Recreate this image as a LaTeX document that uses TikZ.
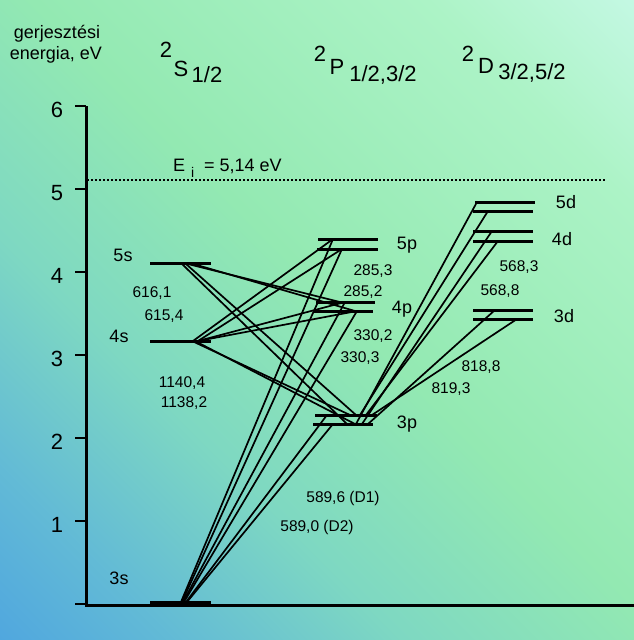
\documentclass[tikz,border=0pt]{standalone}
\usepackage{fontspec}
\setmainfont{Liberation Sans}
\definecolor{cBL}{RGB}{72,158,226}
\definecolor{cA}{RGB}{98,186,214}
\definecolor{cA2}{RGB}{126,216,194}
\definecolor{cM}{RGB}{147,233,178}
\definecolor{cB}{RGB}{172,243,198}
\definecolor{cTR}{RGB}{205,250,238}
\pgfdeclareverticalshading{bgshade}{100bp}{color(0bp)=(cBL); color(10bp)=(cBL); color(24bp)=(cA); color(37bp)=(cA2); color(52bp)=(cM); color(74bp)=(cB); color(90bp)=(cTR); color(100bp)=(cTR)}
\begin{document}
\begin{tikzpicture}[x=1pt,y=-1pt,
  lvl/.style={line width=3pt},
  tr/.style={line width=1.7pt},
  lab/.style={font=\fontsize{18}{20}\selectfont, inner sep=0pt},
  num/.style={font=\fontsize{15.5}{18}\selectfont, inner sep=0pt},
  hdr/.style={font=\fontsize{22}{24}\selectfont, inner sep=0pt},
  axl/.style={font=\fontsize{22}{24}\selectfont, inner sep=0pt}]
\useasboundingbox (0,0) rectangle (634,640);
\shade[shading=bgshade, shading angle=-45] (0,0) rectangle (634,640);

% axis
\draw[line width=3pt] (86,106) -- (86,605) -- (634,605);
\foreach \e/\yy in {6/106,5/189,4/272,3/355,2/438,1/521,0/604}{
  \draw[line width=2pt] (75,\yy) -- (86,\yy);
}
\foreach \e/\yy in {6/106,5/189,4/272,3/355,2/438,1/521}{
  \node[axl] (ax\e) at (57,\yy+4) {\e};
}
\node[lab, anchor=base] (t1) at (57,38) {gerjesztési};
\node[lab, anchor=base] (t2) at (56,59) {energia, eV};

% ionisation limit
\draw[line width=2pt, dash pattern=on 2pt off 2pt] (87,180) -- (605,180);
\node[lab, anchor=base west] (ei1) at (173,171) {E};
\node[font=\fontsize{14}{16}\selectfont, inner sep=0pt, anchor=base west] (ei2) at (191,177) {i};
\node[lab, anchor=base west] (ei3) at (204,171) {= 5,14 eV};

% headers
\node[hdr] (hs1) at (166,50) {2};
\node[hdr] (hs2) at (181,69) {S};
\node[hdr] (hs3) at (207,75) {1/2};
\node[hdr] (hp1) at (320,54) {2};
\node[hdr] (hp2) at (337,67) {P};
\node[hdr] (hp3) at (383,75) {1/2,3/2};
\node[hdr] (hd1) at (468,54) {2};
\node[hdr] (hd2) at (486,66) {D};
\node[hdr] (hd3) at (532,73) {3/2,5/2};

% levels
\draw[line width=4pt] (150,603) -- (211,603);
\draw[lvl] (150,341) -- (211,341);
\draw[lvl] (150,263) -- (211,263);
\draw[lvl] (315,415) -- (377,415);
\draw[lvl] (313,424) -- (373,424);
\draw[lvl] (316,302) -- (375,302);
\draw[lvl] (313,311) -- (373,311);
\draw[lvl] (318,239) -- (378,239);
\draw[lvl] (317,249) -- (378,249);
\draw[lvl] (475,202) -- (535,202);
\draw[lvl] (473,211) -- (533,211);
\draw[lvl] (473,231) -- (533,231);
\draw[lvl] (473,241) -- (533,241);
\draw[lvl] (473,310) -- (533,310);
\draw[lvl] (473,319) -- (533,319);

% level labels
\node[lab] (l5s) at (123,255) {5s};
\node[lab] (l4s) at (119,336) {4s};
\node[lab] (l3s) at (119,578) {3s};
\node[lab] (l5p) at (407,245) {5p};
\node[lab] (l4p) at (402,309) {4p};
\node[lab] (l3p) at (407,424) {3p};
\node[lab] (l5d) at (566,202) {5d};
\node[lab] (l4d) at (562,239) {4d};
\node[lab] (l3d) at (564,316) {3d};

% coordinates
\coordinate (s3a) at (181,602);
\coordinate (s3b) at (182,602);
\coordinate (s3c) at (183,602);
\coordinate (s3d) at (184,602);
\coordinate (s3e) at (186,602);
\coordinate (s3f) at (187,602);
\coordinate (s4a) at (193,341);
\coordinate (s4b) at (198,341);
\coordinate (s4c) at (192,341);
\coordinate (s4d) at (195,341);
\coordinate (s5a) at (182,264);
\coordinate (s5b) at (186,264);
\coordinate (s5c) at (184,263);
\coordinate (s5d) at (190,263);
\coordinate (p5u) at (333,239);
\coordinate (p5l) at (342,249);
\coordinate (p4u) at (345,302);
\coordinate (p4l) at (357,311);
\coordinate (p4u5) at (340,302);
\coordinate (p4l5) at (355,311);
\coordinate (p3u3) at (327,415);
\coordinate (p3l3) at (333,424);
\coordinate (p3l5) at (347,424);
\coordinate (p3u5) at (356,415);
\coordinate (p3u4) at (350,415);
\coordinate (p3l4) at (355,424);
\coordinate (q1) at (356,424);
\coordinate (q2) at (360,415);
\coordinate (q3) at (362,424);
\coordinate (q4) at (366,415);
\coordinate (q5) at (368,424);
\coordinate (q6) at (372,415);
\coordinate (d5u) at (477,202);
\coordinate (d5l) at (488,211);
\coordinate (d4u) at (492,231);
\coordinate (d4l) at (498,241);
\coordinate (d3u) at (495,310);
\coordinate (d3l) at (517,319);

% transitions from 3s
\draw[tr] (s3a) -- (p5u);
\draw[tr] (s3b) -- (p5l);
\draw[tr] (s3c) -- (p4u);
\draw[tr] (s3d) -- (p4l);
\draw[tr] (s3e) -- (p3u3);
\draw[tr] (s3f) -- (p3l3);
% from 4s
\draw[tr] (s4a) -- (p5u);
\draw[tr] (s4b) -- (p5l);
\draw[tr] (s4b) -- (p4u);
\draw[tr] (s4b) -- (p4l);
\draw[tr] (s4c) -- (p3u4);
\draw[tr] (s4d) -- (p3l4);
% from 5s
\draw[tr] (s5c) -- (p4u5);
\draw[tr] (s5d) -- (p4l5);
\draw[tr] (s5a) -- (p3l5);
\draw[tr] (s5b) -- (p3u5);
% from 3p to d
\draw[tr] (q1) -- (d5u);
\draw[tr] (q2) -- (d5l);
\draw[tr] (q3) -- (d4u);
\draw[tr] (q4) -- (d4l);
\draw[tr] (q5) -- (d3u);
\draw[tr] (q6) -- (d3l);

% wavelengths
\node[num] (w1) at (152,293) {616,1};
\node[num] (w2) at (164,316) {615,4};
\node[num] (w3) at (182,383) {1140,4};
\node[num] (w4) at (184,403) {1138,2};
\node[num] (w5) at (373,271) {285,3};
\node[num] (w6) at (363,292) {285,2};
\node[num] (w7) at (373,336) {330,2};
\node[num] (w8) at (360,358) {330,3};
\node[num] (w9) at (519,267) {568,3};
\node[num] (w10) at (500,291) {568,8};
\node[num] (w11) at (481,367) {818,8};
\node[num] (w12) at (451,389) {819,3};
\node[num] (w13) at (343,498) {589,6 (D1)};
\node[num] (w14) at (317,527) {589,0 (D2)};
\end{tikzpicture}
\end{document}
